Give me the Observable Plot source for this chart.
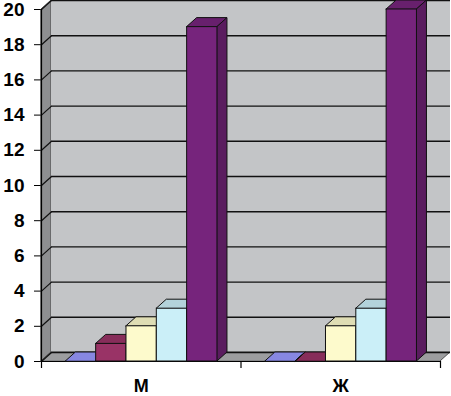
<!DOCTYPE html>
<html>
<head>
<meta charset="utf-8">
<script src="https://cdn.jsdelivr.net/npm/d3@7"></script>
<script src="https://cdn.jsdelivr.net/npm/@observablehq/plot@0.6"></script>
<style>
  html, body { margin: 0; padding: 0; background: #fff; }
  #chart svg { display: block; }
</style>
</head>
<body>
<div id="chart"></div>
<script>
// ---- data ----
const groups = ["М", "Ж"];
const seriesColors = ["#9999ff", "#993366", "#fdfacc", "#cbeff8", "#76247c"];
const valuesM = [0, 1, 2, 3, 19];
const valuesF = [0, 0, 2, 3, 20];
const yMax = 20;

// ---- layout ----
const W = 451, H = 396;
const mL = 41, mR = 11, mT = 9, mB = 35;
const pxPerX = (W - mL - mR) / groups.length;
const pxPerY = (H - mT - mB) / yMax;
const dX = 10 / pxPerX;   // depth offset in x data units
const dY = 9 / pxPerY;    // depth offset in y data units
const barStart = 0.122, barWidth = 0.152;

const seriesByGroup = [valuesM, valuesF];
const bars = [];
seriesByGroup.forEach((vals, g) => {
  vals.forEach((v, i) => {
    const x1 = g + barStart + i * barWidth;
    bars.push({id: g + "-" + i, g, i, v, x1, x2: x1 + barWidth, color: seriesColors[i]});
  });
});
const tops = bars.flatMap(b => [
  {id: b.id, y: b.v, x1: b.x1, x2: b.x2, fill: d3.color(b.color).darker(0.35).formatHex()},
  {id: b.id, y: b.v + dY, x1: b.x1 + dX, x2: b.x2 + dX, fill: d3.color(b.color).darker(0.35).formatHex()}
]);
const sides = bars.flatMap(b => [
  {id: b.id, x: b.x2, y1: 0, y2: b.v, fill: d3.color(b.color).darker(0.75).formatHex()},
  {id: b.id, x: b.x2 + dX, y1: dY, y2: b.v + dY, fill: d3.color(b.color).darker(0.75).formatHex()}
]);
const gridTicks = d3.range(0, yMax + 1, 2);
const xMax = groups.length;

const plot = Plot.plot({
  width: W, height: H,
  marginLeft: mL, marginRight: mR, marginTop: mT, marginBottom: mB,
  style: {fontFamily: "'Liberation Sans', Arial, sans-serif", fontWeight: "bold", fontSize: "19px", color: "#000", background: "#fff", overflow: "visible"},
  x: {domain: [0, xMax], axis: null},
  y: {domain: [0, yMax], ticks: 10, tickSize: 7, tickPadding: 10, label: null},
  marks: [
    // side wall
    Plot.areaY([{x: 0, y1: 0, y2: yMax}, {x: dX, y1: dY, y2: yMax + dY}], {x: "x", y1: "y1", y2: "y2", fill: "#8e8f91", stroke: "#333", strokeWidth: 0.8}),
    // back wall
    Plot.rect([{}], {x1: dX, x2: xMax + dX, y1: dY, y2: yMax + dY, fill: "#c3c5c7"}),
    // floor
    Plot.areaX([{y: 0, x1: 0, x2: xMax}, {y: dY, x1: dX, x2: xMax + dX}], {y: "y", x1: "x1", x2: "x2", fill: "#9c9d9f", stroke: "#333", strokeWidth: 0.8}),
    // gridlines on back wall and side wall
    Plot.ruleY(gridTicks, {y: d => d + dY, x1: dX, x2: xMax + dX, stroke: "#111", strokeWidth: 1.4}),
    Plot.link(gridTicks, {x1: 0, y1: d => d, x2: dX, y2: d => d + dY, stroke: "#111", strokeWidth: 1.2}),
    // axis lines
    Plot.ruleX([0], {y1: 0, y2: yMax, stroke: "#000", strokeWidth: 1.2}),
    Plot.ruleY([0], {x1: 0, x2: xMax, stroke: "#000", strokeWidth: 1.2}),
    Plot.ruleX(d3.range(0, xMax + 1), {y1: 0, y2: -7 / pxPerY, stroke: "#000", strokeWidth: 1.2}),
    // bars: tops, sides, fronts
    Plot.areaX(tops, {y: "y", x1: "x1", x2: "x2", z: "id", fill: "fill", stroke: "#111", strokeWidth: 1}),
    Plot.areaY(sides, {x: "x", y1: "y1", y2: "y2", z: "id", fill: "fill", stroke: "#111", strokeWidth: 1}),
    Plot.rect(bars.filter(b => b.v > 0), {x1: "x1", x2: "x2", y1: 0, y2: "v", fill: "color", stroke: "#111", strokeWidth: 1}),
    // category labels
    Plot.text(groups, {x: (d, i) => i + 0.5, y: 0, dy: 25, text: d => d, fontSize: 18, fontWeight: "bold", fill: "#000"})
  ]
});
document.getElementById("chart").appendChild(plot);
</script>
</body>
</html>
